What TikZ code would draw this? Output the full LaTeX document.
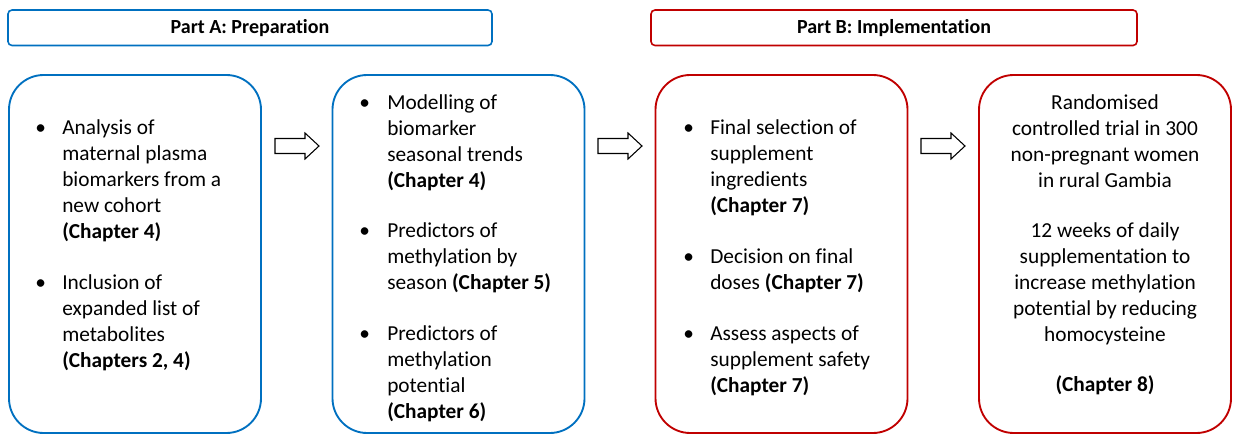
\documentclass[tikz,border=0pt]{standalone}
\usepackage{fontspec}
\setmainfont{Carlito}[Ligatures=NoCommon]
\definecolor{partblue}{HTML}{0070C0}
\definecolor{partred}{HTML}{C00000}
\tikzset{
  headbox/.style={draw, line width=1.2pt, rounded corners=3pt, minimum height=26.6pt, inner sep=0pt, font=\fontsize{15}{18}\selectfont\bfseries},
  stagebox/.style={draw, line width=1.4pt, rounded corners=26pt, minimum width=189pt, minimum height=268.5pt, inner sep=0pt},
  blockarrow/.pic={\draw[fill=white, line width=0.8pt] (-22,-7.5) -- (8,-7.5) -- (8,-13) -- (22,0) -- (8,13) -- (8,7.5) -- (-22,7.5) -- cycle;},
  itemtext/.style={anchor=base west, align=left, inner sep=0pt, font=\fontsize{16}{19.5}\selectfont},
  dot/.style={anchor=base west, inner sep=0pt, font=\fontsize{16}{19.5}\selectfont},
}
\begin{document}
\begin{tikzpicture}[x=0.75pt, y=-0.75pt]
			\useasboundingbox (0,0) rectangle (1238,435);
			% part headers
			\node (A)[headbox, draw=partblue, minimum width=363pt] at (250,27.75) {Part A: Preparation};
			\node (B)[headbox, draw=partred, minimum width=364.5pt] at (894,27.75) {Part B: Implementation};
			% stage boxes
			\node (1)[stagebox, draw=partblue] at (135,254) {};
			\node (2)[stagebox, draw=partblue] at (458.5,254) {};
			\node (3)[stagebox, draw=partred] at (781.5,254) {};
			\node (4)[stagebox, draw=partred] at (1105,254) {};
			% arrows between boxes
			\pic (a12) at (297,146) {blockarrow};
			\pic (a23) at (620,146) {blockarrow};
			\pic (a34) at (943,146) {blockarrow};
			% box 1 (text nodes sit on their last line)
			\node (d11)[dot] at (35,134) {\textbullet};
			\node (t11)[itemtext] at (62,238) {Analysis of\\maternal plasma\\biomarkers from a\\new cohort\\\textbf{(Chapter 4)}};
			\node (d12)[dot] at (35,289) {\textbullet};
			\node (t12)[itemtext] at (62,367) {Inclusion of\\expanded list of\\metabolites\\\textbf{(Chapters 2, 4)}};
			% box 2
			\node (d21)[dot] at (359,109) {\textbullet};
			\node (t21)[itemtext] at (387,187) {Modelling of\\biomarker\\seasonal trends\\\textbf{(Chapter 4)}};
			\node (d22)[dot] at (359,237) {\textbullet};
			\node (t22)[itemtext] at (387,289) {Predictors of\\methylation by\\season \textbf{(Chapter 5)}};
			\node (d23)[dot] at (359,340) {\textbullet};
			\node (t23)[itemtext] at (387,418) {Predictors of\\methylation\\potential\\\textbf{(Chapter 6)}};
			% box 3
			\node (d31)[dot] at (683,134) {\textbullet};
			\node (t31)[itemtext] at (710,212) {Final selection of\\supplement\\ingredients\\\textbf{(Chapter 7)}};
			\node (d32)[dot] at (683,263) {\textbullet};
			\node (t32)[itemtext] at (710,289) {Decision on final\\doses \textbf{(Chapter 7)}};
			\node (d33)[dot] at (683,340) {\textbullet};
			\node (t33)[itemtext] at (710,392) {Assess aspects of\\supplement safety\\\textbf{(Chapter 7)}};
			% box 4
			\begin{scope}[every node/.style={itemtext, anchor=base, align=center}]
				\node (t41) at (1105,187) {Randomised\\controlled trial in 300\\non-pregnant women\\in rural Gambia};
				\node (t42) at (1105,341) {12 weeks of daily\\supplementation to\\increase methylation\\potential by reducing\\homocysteine};
				\node (t43) at (1105,391) {\textbf{(Chapter 8)}};
			\end{scope}
		\end{tikzpicture}
\end{document}
